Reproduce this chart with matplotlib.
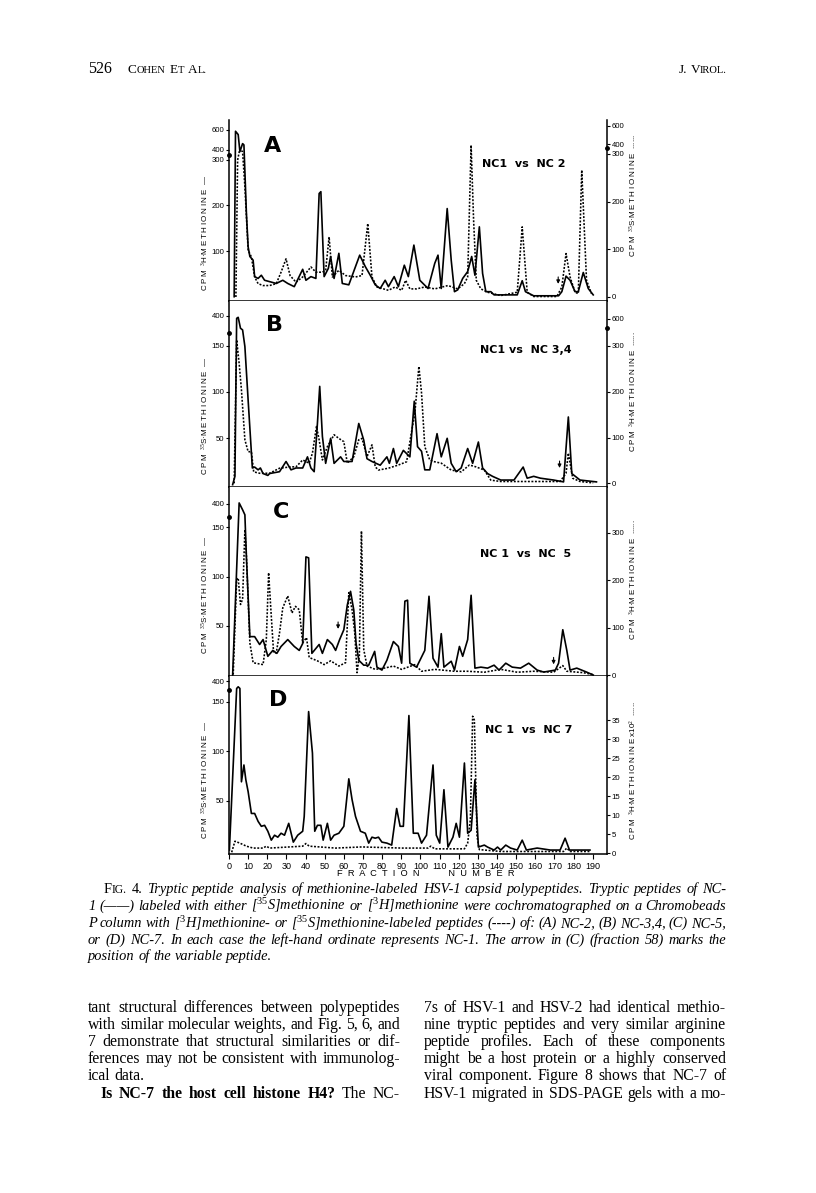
import numpy as np
import matplotlib
matplotlib.use("Agg")
import matplotlib.pyplot as plt

W, H = 816, 1193

plt.rcParams['font.family'] = ['Liberation Sans', 'DejaVu Sans']
plt.rcParams['mathtext.fontset'] = 'custom'
plt.rcParams['mathtext.rm'] = 'Liberation Sans'
plt.rcParams['mathtext.it'] = 'Liberation Sans:italic'

# ---- data: (fraction number, cpm) ----
# panel A: NC1 (3H, left axis, solid) vs NC2 (35S, right axis, dotted)
a_nc1 = [(2.7, 0), (3.4, 583), (4.8, 550), (5.7, 380), (7.1, 460), (7.8, 447), (9.1, 182),
         (10.0, 109), (10.9, 88), (12.6, 80), (13.4, 44), (15.2, 40), (16.9, 47), (18.6, 36),
         (21.2, 33), (24.7, 29), (28.1, 36), (30.7, 29), (34.1, 22), (38.5, 60), (40.2, 36),
         (42.8, 44), (45.4, 40), (47.1, 226), (48.0, 230), (49.7, 44), (51.9, 62), (53.1, 88),
         (54.9, 40), (57.4, 95), (59.2, 29), (62.6, 26), (66.1, 66), (68.3, 91), (71.2, 66),
         (73.8, 47), (76.4, 26), (79.0, 18), (81.6, 36), (83.3, 22), (86.3, 44), (88.5, 22),
         (91.6, 69), (93.7, 44), (96.6, 113), (99.7, 36), (104.0, 18), (107.5, 73), (109.2, 91),
         (110.9, 18), (114.0, 193), (116.1, 80), (117.8, 11), (119.5, 15), (122.1, 40), (124.7, 55),
         (126.8, 88), (128.5, 47), (130.8, 153), (132.5, 51), (134.2, 11), (136.8, 11), (138.5, 4),
         (150.6, 4), (153.2, 35), (154.9, 11), (159.2, 2), (172.2, 2), (173.9, 11), (176.1, 45),
         (178.2, 36), (180.8, 11), (182.5, 11), (185.1, 53), (187.7, 18), (190.3, 4)]
a_nc2 = [(3.6, 0), (4.5, 287), (5.7, 356), (7.1, 321), (8.3, 231), (10.0, 98), (11.7, 84),
         (13.4, 42), (15.2, 28), (17.8, 24), (21.2, 24), (24.7, 28), (27.2, 52), (29.8, 80),
         (31.9, 45), (35.0, 31), (38.5, 42), (42.8, 63), (45.4, 52), (48.8, 52), (50.5, 56),
         (52.3, 126), (54.0, 42), (57.4, 56), (60.9, 45), (66.1, 42), (69.5, 45), (72.5, 154),
         (74.7, 42), (77.3, 21), (83.3, 14), (86.8, 21), (90.2, 14), (92.3, 35), (94.5, 17),
         (98.0, 17), (102.3, 21), (107.5, 17), (114.4, 24), (119.5, 17), (123.0, 28), (124.7, 42),
         (126.5, 392), (127.8, 161), (129.2, 35), (131.6, 17), (135.1, 10), (142.0, 3), (150.6, 10),
         (153.2, 147), (155.8, 10), (159.2, 1), (171.3, 1), (173.9, 21), (176.1, 91), (178.2, 42),
         (180.8, 10), (182.5, 7), (184.3, 266), (186.8, 35), (189.4, 7)]

# panel B: NC1 (35S, left, solid) vs NC3,4 (3H, right, dotted)
b_nc1 = [(1.9, 0), (3.1, 9), (4.0, 368), (4.8, 380), (6.0, 253), (7.1, 234), (8.3, 149),
         (10.0, 91), (12.2, 18), (13.4, 19), (15.2, 16), (16.4, 18), (17.8, 12), (20.3, 10),
         (21.2, 12), (26.4, 14), (29.8, 25), (32.4, 16), (35.0, 18), (38.5, 18), (41.0, 30),
         (42.8, 18), (44.5, 14), (46.2, 66), (47.4, 106), (48.8, 52), (50.5, 23), (53.1, 50),
         (54.9, 23), (58.3, 30), (60.0, 25), (64.3, 25), (67.8, 66), (70.4, 48), (72.1, 28),
         (74.7, 25), (79.0, 21), (82.5, 30), (83.8, 23), (85.9, 39), (87.6, 23), (91.1, 37),
         (94.5, 30), (96.8, 90), (98.5, 41), (100.6, 36), (102.3, 16), (104.9, 16), (108.7, 55),
         (110.9, 30), (114.0, 50), (116.1, 23), (118.7, 14), (121.3, 18), (124.7, 39), (127.3, 23),
         (130.3, 46), (132.5, 18), (135.1, 12), (137.7, 9), (142.0, 5), (148.9, 5), (153.7, 19),
         (155.8, 7), (159.2, 9), (162.7, 7), (169.6, 5), (174.8, 3), (177.3, 73), (179.1, 12),
         (183.4, 5), (192.0, 3)]
b_nc34 = [(2.7, 0), (4.0, 367), (5.3, 262), (6.5, 204), (8.3, 95), (10.0, 69), (11.7, 69),
          (12.9, 25), (16.0, 22), (21.2, 22), (26.4, 33), (32.4, 36), (35.0, 36), (38.5, 51),
          (41.9, 44), (43.6, 66), (45.7, 124), (47.1, 95), (48.8, 51), (51.4, 80), (54.9, 106),
          (57.4, 98), (60.0, 91), (61.8, 44), (65.2, 58), (67.8, 95), (69.5, 98), (72.1, 58),
          (74.7, 84), (76.4, 36), (78.1, 29), (83.3, 33), (88.5, 40), (92.8, 47), (95.4, 113),
          (97.1, 153), (99.2, 255), (100.6, 197), (102.3, 80), (104.9, 51), (107.5, 47),
          (110.9, 44), (116.1, 29), (121.3, 25), (125.6, 40), (129.0, 36), (133.4, 29),
          (136.8, 7), (142.0, 4), (173.0, 4), (176.1, 22), (177.3, 66), (179.6, 11), (183.4, 4),
          (190.3, 1)]

# panel C: NC1 (35S, left, solid) vs NC5 (3H, right, dotted)
c_nc1 = [(1.9, 0), (5.3, 415), (7.1, 295), (8.3, 207), (9.1, 120), (10.9, 39), (13.4, 39),
         (16.0, 31), (17.8, 36), (20.3, 19), (22.9, 25), (25.0, 22), (27.2, 29), (30.7, 36),
         (34.1, 29), (36.7, 25), (38.5, 32), (40.2, 120), (41.6, 119), (43.3, 22), (45.4, 27),
         (47.1, 31), (48.8, 22), (51.4, 36), (54.0, 31), (55.7, 25), (57.8, 36), (60.0, 46),
         (61.8, 71), (63.5, 85), (65.2, 66), (66.4, 32), (67.8, 15), (70.4, 10), (73.0, 10),
         (76.1, 24), (77.3, 8), (79.9, 5), (82.5, 15), (85.9, 34), (88.5, 29), (90.2, 12),
         (91.9, 75), (93.3, 76), (94.5, 12), (98.0, 8), (102.3, 25), (104.5, 80), (106.6, 17),
         (109.2, 8), (110.9, 42), (112.3, 8), (116.1, 14), (117.8, 5), (120.4, 29), (122.1, 19),
         (124.7, 36), (126.5, 81), (128.5, 7), (131.6, 8), (135.1, 7), (138.5, 10), (141.1, 5),
         (144.6, 12), (148.0, 8), (152.3, 7), (156.6, 12), (161.0, 5), (164.4, 3), (170.5, 5),
         (172.2, 12), (174.4, 46), (176.5, 25), (178.2, 5), (181.7, 7), (186.8, 3), (190.3, 0)]
c_nc5 = [(2.2, 1), (4.0, 202), (4.8, 205), (6.0, 149), (7.1, 160), (8.3, 307), (9.1, 251),
         (10.9, 68), (12.6, 26), (17.8, 22), (19.5, 75), (20.7, 216), (22.1, 124), (23.3, 47),
         (24.7, 47), (26.4, 89), (28.1, 142), (30.7, 167), (32.9, 131), (34.7, 145), (36.7, 138),
         (38.5, 68), (40.5, 79), (41.9, 37), (46.2, 30), (49.7, 22), (53.1, 30), (57.4, 19),
         (60.9, 26), (62.6, 174), (64.3, 138), (65.7, 89), (66.9, 5), (68.1, 40), (69.2, 304),
         (70.4, 54), (72.1, 19), (76.4, 12), (81.6, 15), (85.9, 19), (90.2, 12), (97.1, 22),
         (100.6, 8), (107.5, 12), (117.8, 8), (124.7, 8), (133.4, 6), (142.0, 12), (150.6, 6),
         (159.2, 8), (169.6, 6), (174.4, 20), (176.5, 8), (185.1, 5), (190.3, 1)]

# panel D: NC1 (35S, left, solid) vs NC7 (3H x10^2, right, dotted)
d_nc1 = [(0.2, 0), (4.0, 235), (4.8, 272), (5.7, 235), (6.5, 69), (7.8, 86), (8.8, 71),
         (10.0, 59), (11.7, 37), (13.4, 37), (15.2, 29), (16.9, 24), (18.6, 25), (20.3, 19),
         (22.1, 10), (23.8, 15), (25.5, 13), (27.2, 17), (29.0, 15), (31.2, 27), (33.6, 8),
         (35.9, 15), (38.5, 19), (39.3, 34), (41.6, 140), (43.6, 98), (44.8, 19), (46.2, 25),
         (48.0, 25), (49.2, 10), (51.4, 27), (53.1, 10), (54.9, 15), (57.4, 17), (60.0, 24),
         (62.6, 72), (64.3, 51), (66.1, 34), (68.7, 19), (71.2, 17), (73.0, 7), (74.7, 13),
         (76.4, 12), (78.1, 13), (79.9, 8), (82.5, 7), (85.0, 5), (87.6, 42), (89.4, 24),
         (91.1, 24), (94.0, 136), (96.3, 17), (98.8, 17), (100.6, 7), (103.2, 15), (106.6, 86),
         (108.3, 15), (110.1, 7), (112.3, 61), (114.4, 3), (117.0, 13), (118.7, 27), (120.4, 13),
         (123.0, 88), (124.7, 17), (126.5, 20), (128.5, 71), (130.3, 3), (133.4, 5), (135.1, 3),
         (138.5, 0), (140.3, 3), (142.0, 0), (144.6, 5), (147.1, 2), (150.6, 0), (153.2, 10),
         (155.4, 0), (161.0, 2), (167.9, 0), (173.0, 0), (175.6, 12), (177.9, 0), (188.6, 0)]
d_nc7 = [(1.4, 0.2), (3.1, 3.1), (5.7, 2.6), (9.1, 1.8), (12.6, 1.3), (17.8, 1.3), (19.5, 1.8),
         (21.2, 1.3), (38.5, 1.8), (40.2, 2.5), (41.9, 1.8), (55.7, 1.3), (69.5, 1.6), (90.2, 1.3),
         (104.0, 1.3), (105.4, 1.8), (107.5, 1.1), (123.0, 1.1), (124.7, 2.6), (126.1, 8.8),
         (127.3, 36), (128.2, 35), (129.6, 4.4), (130.8, 0.9), (142.0, 0.4), (159.2, 0.4),
         (174.8, 0.4), (176.5, 1.3), (178.2, 0.4), (188.6, 0.4)]

left_ticks = [[100, 200, 300, 400, 600], [50, 100, 150, 400], [50, 100, 150, 400], [50, 100, 150, 400]]
right_ticks = [[0, 100, 200, 300, 400, 600], [0, 100, 200, 300, 600], [0, 100, 200, 300],
               [0, 5, 10, 15, 20, 25, 30, 35]]
frac_ticks = list(range(0, 200, 10))

panels = ['A', 'B', 'C', 'D']
titles = ['NC1  vs  NC 2', 'NC1 vs  NC 3,4', 'NC 1  vs  NC  5', 'NC 1  vs  NC 7']
isotope_left = ['3H', '35S', '35S', '35S']
isotope_right = ['35S', '3H', '3H', '3H']
right_suffix = ['', '', '', r' x10$^{2}$']
series = [(a_nc1, a_nc2), (b_nc1, b_nc34), (c_nc1, c_nc5), (d_nc1, d_nc7)]

# axis layout (pixel rows of each panel) and broken-scale settings
rows = [(120, 301), (301, 487), (487, 676), (676, 854)]
left_scale = [(300, 0.22, -9.4, 695), (160, 0.093, -2.5, 569), (160, 0.058, -1, 694), (160, 0.045, -4, 515)]
right_scale = [(300, 0.198, -8.4, 659), (300, 0.197, -8, 797), (None, 1, -2, 397), (None, 1, -0.26, 46.6)]
left_breaks = [350, 203, 170, 195]
right_breaks = [362, 498, None, None]
arrows = [[(172.0, 22)], [(172.7, 15)], [(57.0, 44), (169.6, 8)], []]
letter_pos = [(273, 146), (275, 325), (281, 512), (278, 700)]
title_pos = [(482, 164), (480, 350), (480, 554), (485, 730)]
ylab_left = [233, 416, 595, 780]
ylab_right = [196, 392, 580, 771]


def fx(x):
    return x / W


def fy(y):
    return 1 - y / H


def broken(brk, k):
    def fwd(v):
        v = np.asarray(v, float)
        return np.where(v <= brk, v, brk + (v - brk) * k)

    def inv(u):
        u = np.asarray(u, float)
        return np.where(u <= brk, u, brk + (u - brk) / k)
    return fwd, inv


def spaced(s):
    return '\u2009'.join(s)


def iso(s):
    return r'$^{%s}$%s' % (s[:-1], s[-1])


fig = plt.figure(figsize=(W / 100, H / 100), dpi=100)
fig.patch.set_facecolor('white')

for i in range(4):
    top, bot = rows[i]
    ax = fig.add_axes([fx(229), fy(bot), (607 - 229) / W, (bot - top) / H])
    ax2 = ax.twinx()
    solid = np.array(series[i][0]).T
    dots = np.array(series[i][1]).T

    brk, k, lo, hi = left_scale[i]
    ax.set_yscale('function', functions=broken(brk, k))
    ax.set_ylim(lo, hi)
    brk, k, lo, hi = right_scale[i]
    if brk is not None:
        ax2.set_yscale('function', functions=broken(brk, k))
    ax2.set_ylim(lo, hi)

    ax.plot(solid[0], solid[1], color='black', lw=1.2)
    ax2.plot(dots[0], dots[1], color='black', lw=1.15, linestyle=(0, (1.2, 1.0)))
    ax.set_xlim(1.2, 197.5)

    for a in (ax, ax2):
        a.spines['top'].set_visible(False)
        for s in a.spines.values():
            s.set_linewidth(1.1)
    ax.spines['right'].set_visible(False)
    ax2.spines['left'].set_visible(False)
    ax2.spines['bottom'].set_visible(False)

    ax.set_yticks(left_ticks[i])
    ax.set_yticklabels([str(t) for t in left_ticks[i]])
    ax2.set_yticks(right_ticks[i])
    ax2.set_yticklabels([str(t) for t in right_ticks[i]])
    ax.yaxis.set_minor_locator(matplotlib.ticker.NullLocator())
    ax2.yaxis.set_minor_locator(matplotlib.ticker.NullLocator())
    ax.tick_params(axis='y', direction='out', length=2.5, width=0.8, labelsize=5.6, pad=0.8)
    ax2.tick_params(axis='y', direction='out', length=2.5, width=0.8, labelsize=5.6, pad=0.8)
    ax.set_xticks(frac_ticks)
    ax.tick_params(axis='x', direction='out', length=3.5, width=0.8, labelsize=6.5, pad=2)
    if i < 3:
        ax.set_xticklabels([])
    else:
        ax.set_xticklabels([str(t) for t in frac_ticks])

    # axis-break marks on the ordinates
    ax.plot([0], [left_breaks[i]], 'o', ms=2.5, color='black', clip_on=False,
            transform=ax.get_yaxis_transform())
    if right_breaks[i] is not None:
        ax2.plot([1], [right_breaks[i]], 'o', ms=2.5, color='black', clip_on=False,
                 transform=ax2.get_yaxis_transform())

    for f, v in arrows[i]:
        ax.annotate('', xy=(f, v), xytext=(0, 9), textcoords='offset points',
                    arrowprops=dict(arrowstyle='-|>', lw=0.8, color='black', mutation_scale=5))

    fig.text(fx(letter_pos[i][0]), fy(letter_pos[i][1]), panels[i], fontsize=16, fontweight='bold',
             family='DejaVu Sans', ha='center', va='center')
    fig.text(fx(title_pos[i][0]), fy(title_pos[i][1]), titles[i], fontsize=8, fontweight='bold',
             family='DejaVu Sans', ha='left', va='center')
    lab_l = spaced('CPM') + '  ' + iso(isotope_left[i]) + '·' + spaced('METHIONINE') + '  —'
    lab_r = spaced('CPM') + '  ' + iso(isotope_right[i]) + '·' + spaced('METHIONINE') + \
        right_suffix[i] + '  ......'
    fig.text(fx(205), fy(ylab_left[i]), lab_l, fontsize=5.8, rotation=90,
             ha='center', va='center')
    fig.text(fx(632), fy(ylab_right[i]), lab_r, fontsize=5.8, rotation=90,
             ha='center', va='center')

fig.text(fx(426), fy(873), '  '.join('FRACTION') + '           ' + '  '.join('NUMBER'),
         fontsize=6.7, ha='center', va='center')

# ---- page text ----
serif = 'Liberation Serif'
plt.rcParams['mathtext.rm'] = 'Liberation Serif'
plt.rcParams['mathtext.it'] = 'Liberation Serif:italic'
renderer = fig.canvas.get_renderer()


def justify(words, x0, x1, y, size, style='normal', weight='normal', fill=True, align='left'):
    # each word is a string or a list of (text, style overrides) pieces set without a gap
    groups = []
    for w in words:
        pieces = w if isinstance(w, list) else [(w, {})]
        arts = []
        for text, extra in pieces:
            kw = dict(style=style, weight=weight, fontsize=size)
            kw.update(extra)
            arts.append(fig.text(0, fy(y), text, family=serif, va='baseline', **kw))
        groups.append([(t, t.get_window_extent(renderer).width) for t in arts])
    widths = [sum(wd for _, wd in g) for g in groups]
    space = size * 100 / 72 * 0.25
    gap = (x1 - x0 - sum(widths)) / (len(groups) - 1) if fill else space
    x = x0
    if not fill and align == 'right':
        x = x1 - sum(widths) - gap * (len(groups) - 1)
    for g, gw in zip(groups, widths):
        xx = x
        for t, wd in g:
            t.set_x(fx(xx))
            xx += wd
        x += gw + gap


def smallcaps(word, big, small):
    return [(word[0], dict(fontsize=big)), (word[1:], dict(fontsize=small))]


fig.text(fx(88), fy(73), '526', fontsize=11.5, family=serif, va='baseline')
justify([smallcaps('COHEN', 9.5, 7.6), smallcaps('ET', 9.5, 7.6), smallcaps('AL.', 9.5, 7.6)],
        128, 207, 73, 9.5)
justify(['J.', smallcaps('VIROL.', 9.5, 7.6)], 600, 727, 73, 9.5, fill=False, align='right')

cap = [
    "Tryptic peptide analysis of methionine-labeled HSV-1 capsid polypeptides. Tryptic peptides of NC-",
    "1 (——) labeled with either [$^{35}$S]methionine or [$^{3}$H]methionine were cochromatographed on a Chromobeads",
    "P column with [$^{3}$H]methionine- or [$^{35}$S]methionine-labeled peptides (----) of: (A) NC-2, (B) NC-3,4, (C) NC-5,",
    "or (D) NC-7. In each case the left-hand ordinate represents NC-1. The arrow in (C) (fraction 58) marks the",
    "position of the variable peptide.",
]
cap_y = [893, 910, 927, 944, 960]
for j, line in enumerate(cap):
    words = line.split(' ')
    x0 = 88
    if j == 0:
        fig_word = [('F', dict(style='normal')), ('IG.', dict(style='normal', fontsize=8.3))]
        words = [fig_word, [('4.', dict(style='normal'))]] + words
        x0 = 104
    justify(words, x0, 726, cap_y[j], 10.4, style='italic', fill=(j < 4))

left_col = [
    "tant structural differences between polypeptides",
    "with similar molecular weights, and Fig. 5, 6, and",
    "7 demonstrate that structural similarities or dif-",
    "ferences may not be consistent with immunolog-",
    "ical data.",
]
right_col = [
    "7s of HSV-1 and HSV-2 had identical methio-",
    "nine tryptic peptides and very similar arginine",
    "peptide profiles. Each of these components",
    "might be a host protein or a highly conserved",
    "viral component. Figure 8 shows that NC-7 of",
    "HSV-1 migrated in SDS-PAGE gels with a mo-",
]
body_y = [1012, 1029, 1046, 1063, 1080, 1098]
for j, line in enumerate(left_col):
    justify(line.split(' '), 88, 400, body_y[j], 11.3, fill=(j < 4))
head = [[(w, dict(weight='bold'))] for w in "Is NC-7 the host cell histone H4?".split(' ')]
justify(head + ['The', 'NC-'], 100, 400, body_y[5], 11.3)
for j, line in enumerate(right_col):
    justify(line.split(' '), 424, 726, body_y[j], 11.3)

fig.savefig('out.png', dpi=100, facecolor='white')
